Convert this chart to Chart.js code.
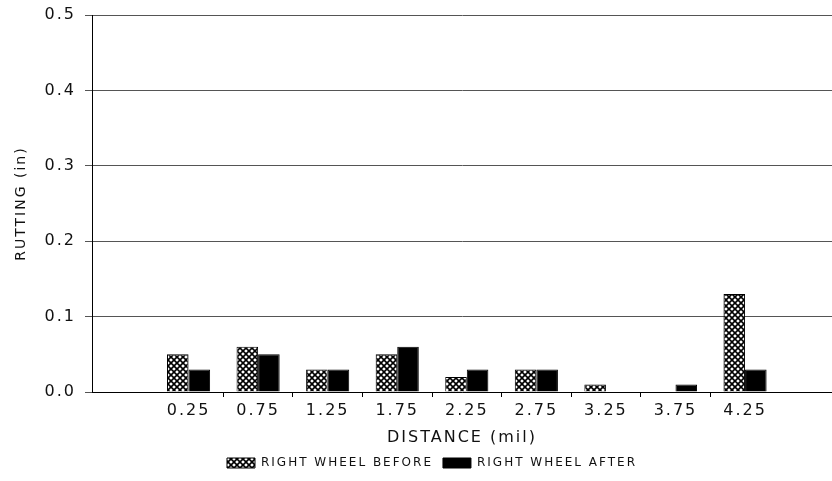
<!DOCTYPE html>
<html>
<head>
<meta charset="utf-8">
<script src="https://cdn.jsdelivr.net/npm/chart.js"></script>
<style>
  html, body { margin: 0; padding: 0; background: #fff; overflow: hidden; }
  canvas { display: block; }
</style>
</head>
<body>
<canvas id="rut-chart" width="832" height="481"></canvas>
<script>
// distance along the section (mi) and measured rut depth (in)
const distance = [0.25, 0.75, 1.25, 1.75, 2.25, 2.75, 3.25, 3.75, 4.25];
const rightBefore = [0.05, 0.06, 0.03, 0.05, 0.02, 0.03, 0.01, 0.00, 0.13];
const rightAfter = [0.03, 0.05, 0.03, 0.06, 0.03, 0.03, 0.00, 0.01, 0.03];
const yTicks = [0.0, 0.1, 0.2, 0.3, 0.4, 0.5];

// cross-hatch fill for the "before" bars
function crossHatch() {
  const c = document.createElement('canvas');
  c.width = 6;
  c.height = 6;
  const g = c.getContext('2d');
  g.fillStyle = '#fff';
  g.fillRect(0, 0, 6, 6);
  g.strokeStyle = '#000';
  g.lineWidth = 1.6;
  g.beginPath();
  g.moveTo(0, 0); g.lineTo(6, 6);
  g.moveTo(6, 0); g.lineTo(0, 6);
  g.stroke();
  return g.createPattern(c, 'repeat');
}

const pairs = (vals) => distance.map((d, i) => ({ x: d, y: vals[i] }));

// plotter-style lettering is widely spaced; legend sits a little right of centre
const spacing = {
  id: 'spacing',
  beforeUpdate(chart) { chart.ctx.letterSpacing = '2px'; },
  beforeDraw(chart) { chart.ctx.letterSpacing = '2px'; },
  afterLayout(chart) { chart.legend.left += 32; }
};

const ink = '#111';
Chart.defaults.font.family = '"DejaVu Sans", sans-serif';
Chart.defaults.color = ink;

const ctx = document.getElementById('rut-chart').getContext('2d');
const myChart = new Chart(ctx, {
  type: 'bar',
  data: {
    datasets: [
      {
        label: 'RIGHT WHEEL BEFORE',
        data: pairs(rightBefore),
        backgroundColor: crossHatch(),
        borderColor: '#000',
        borderWidth: 1
      },
      {
        label: 'RIGHT WHEEL AFTER',
        data: pairs(rightAfter),
        backgroundColor: '#000',
        borderColor: '#000',
        borderWidth: 1
      }
    ]
  },
  options: {
    responsive: false,
    animation: false,
    layout: { padding: { top: 15, right: 0, bottom: 2, left: 0 } },
    datasets: {
      bar: { categoryPercentage: 0.62, barPercentage: 1.0 }
    },
    plugins: {
      legend: {
        position: 'bottom',
        labels: {
          boxWidth: 28,
          boxHeight: 10,
          padding: 10,
          font: { size: 12 }
        }
      },
      tooltip: { enabled: false }
    },
    scales: {
      x: {
        type: 'linear',
        min: -0.444,
        max: 4.875,
        offset: false,
        afterBuildTicks: (scale) => {
          scale.ticks = distance.map(v => ({ value: v }));
        },
        afterFit: (scale) => { scale.height = 55; },
        border: { color: '#000', width: 1 },
        grid: {
          offset: true,
          drawOnChartArea: false,
          tickLength: 5,
          color: (c) => (c.index > 0 && c.index < distance.length) ? '#000' : 'rgba(0,0,0,0)'
        },
        ticks: {
          autoSkip: false,
          maxRotation: 0,
          padding: 4,
          font: { size: 16 },
          callback: (v) => Number(v).toFixed(2)
        },
        title: {
          display: true,
          text: 'DISTANCE (mil)',
          font: { size: 16 },
          padding: { top: 5, bottom: 0 }
        }
      },
      y: {
        min: 0,
        max: 0.5,
        afterBuildTicks: (scale) => {
          scale.ticks = yTicks.map(v => ({ value: v }));
        },
        afterFit: (scale) => {
          scale.width = 92;
          scale.paddingTop = 0;
          scale.paddingBottom = 0;
        },
        border: { color: '#000', width: 1 },
        grid: {
          color: '#555',
          lineWidth: 1,
          tickLength: 7
        },
        ticks: {
          padding: 9,
          font: { size: 16 },
          callback: (v) => Number(v).toFixed(1)
        },
        title: {
          display: true,
          text: 'RUTTING (in)',
          font: { size: 14 },
          padding: { top: 13, bottom: 0 }
        }
      }
    }
  },
  plugins: [spacing]
});
</script>
</body>
</html>
